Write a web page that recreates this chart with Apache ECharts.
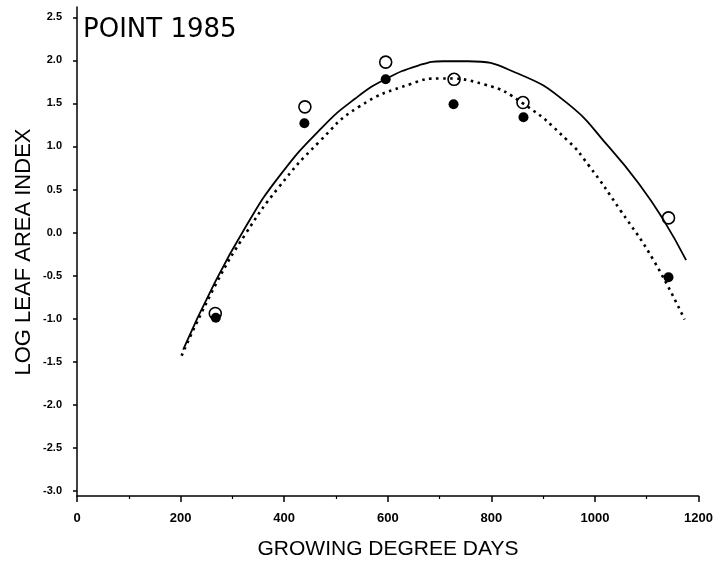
<!DOCTYPE html>
<html>
<head>
<meta charset="utf-8">
<script src="https://cdn.jsdelivr.net/npm/echarts@6/dist/echarts.min.js"></script>
<style>html,body{margin:0;padding:0;background:#fff;}#c{width:716px;height:571px;}</style>
</head>
<body>
<div id="c"></div>
<script>
// Observed points (growing degree days, log leaf area index)
var openGDD   = [267, 440, 596, 728, 861, 1142];
var openLAI   = [-0.94, 1.46, 1.98, 1.78, 1.51, 0.17];
var filledGDD = [268, 439, 596, 727, 862, 1142];
var filledLAI = [-0.99, 1.27, 1.78, 1.49, 1.34, -0.52];

// Fitted curves
var solidGDD = [205, 262, 326, 390, 473, 538, 595, 659, 707, 755, 850, 947, 1029, 1087, 1132, 1176];
var solidLAI = [-1.36, -0.63, 0.07, 0.65, 1.22, 1.56, 1.78, 1.94, 1.99, 1.99, 1.85, 1.50, 0.98, 0.55, 0.15, -0.32];
var dotGDD = [202, 269, 326, 390, 467, 544, 646, 700, 787, 861, 947, 988, 1049, 1113, 1173];
var dotLAI = [-1.43, -0.59, -0.01, 0.53, 1.05, 1.46, 1.73, 1.79, 1.72, 1.50, 1.07, 0.78, 0.26, -0.32, -1.01];

// Axis ticks
var yTicks = [-3.0, -2.5, -2.0, -1.5, -1.0, -0.5, 0.0, 0.5, 1.0, 1.5, 2.0, 2.5];

var titleText = 'POINT 1985';
var xTitle = 'GROWING DEGREE DAYS';
var yTitle = 'LOG LEAF AREA INDEX';

function zip(a, b) { return a.map(function (v, i) { return [v, b[i]]; }); }

var chart = echarts.init(document.getElementById('c'), null, {renderer: 'canvas'});
chart.setOption({
  animation: false,
  backgroundColor: '#fff',
  grid: {left: 77, right: 14, top: 7, bottom: 75, containLabel: false},
  xAxis: {
    type: 'value', min: 0, max: 1200, interval: 200,
    axisLine: {show: true, onZero: false, lineStyle: {color: '#000', width: 1.5}},
    axisTick: {show: true, inside: false, length: 6, lineStyle: {color: '#000', width: 1.5}},
    minorTick: {show: true, splitNumber: 2, length: 3, lineStyle: {color: '#000', width: 1.2}},
    splitLine: {show: false},
    axisLabel: {margin: 16, color: '#000', fontFamily: 'Liberation Sans', fontWeight: 'bold', fontSize: 13,
      formatter: function (v) { return String(v); }}
  },
  yAxis: {
    type: 'value', min: -3.06, max: 2.62,
    axisLine: {show: true, onZero: false, lineStyle: {color: '#000', width: 1.5}},
    axisTick: {show: true, inside: false, length: 4, customValues: yTicks, lineStyle: {color: '#000', width: 1.5}},
    splitLine: {show: false},
    axisLabel: {margin: 15, color: '#000', fontFamily: 'Liberation Sans', fontWeight: 'bold', fontSize: 11,
      customValues: yTicks,
      formatter: function (v) { return (Math.round(v * 10) / 10).toFixed(1); }}
  },
  graphic: [
    {type: 'text', left: 83, top: 17, style: {text: titleText, font: '26px "DejaVu Sans"', fill: '#000'}},
    {type: 'text', x: 388, y: 549, style: {text: xTitle, font: '21px "Liberation Sans"', fill: '#000', textAlign: 'center', textVerticalAlign: 'middle'}},
    {type: 'text', x: 24, y: 252, rotation: Math.PI / 2, style: {text: yTitle, font: '22px "Liberation Sans"', fill: '#000', textAlign: 'center', textVerticalAlign: 'middle'}}
  ],
  series: [
    {type: 'line', data: zip(solidGDD, solidLAI), smooth: 0.5, showSymbol: false, silent: true,
      lineStyle: {color: '#000', width: 1.8}},
    {type: 'line', data: zip(dotGDD, dotLAI), smooth: 0.5, showSymbol: false, silent: true,
      lineStyle: {color: '#000', width: 2.6, type: [2.6, 4.4], cap: 'butt'}},
    {type: 'scatter', data: zip(filledGDD, filledLAI), symbol: 'circle', symbolSize: 10,
      itemStyle: {color: '#000', opacity: 1}},
    {type: 'scatter', data: zip(openGDD, openLAI), symbol: 'circle', symbolSize: 12,
      itemStyle: {color: 'rgba(255,255,255,0)', borderColor: '#000', borderWidth: 1.6, opacity: 1}}
  ]
});
</script>
</body>
</html>
